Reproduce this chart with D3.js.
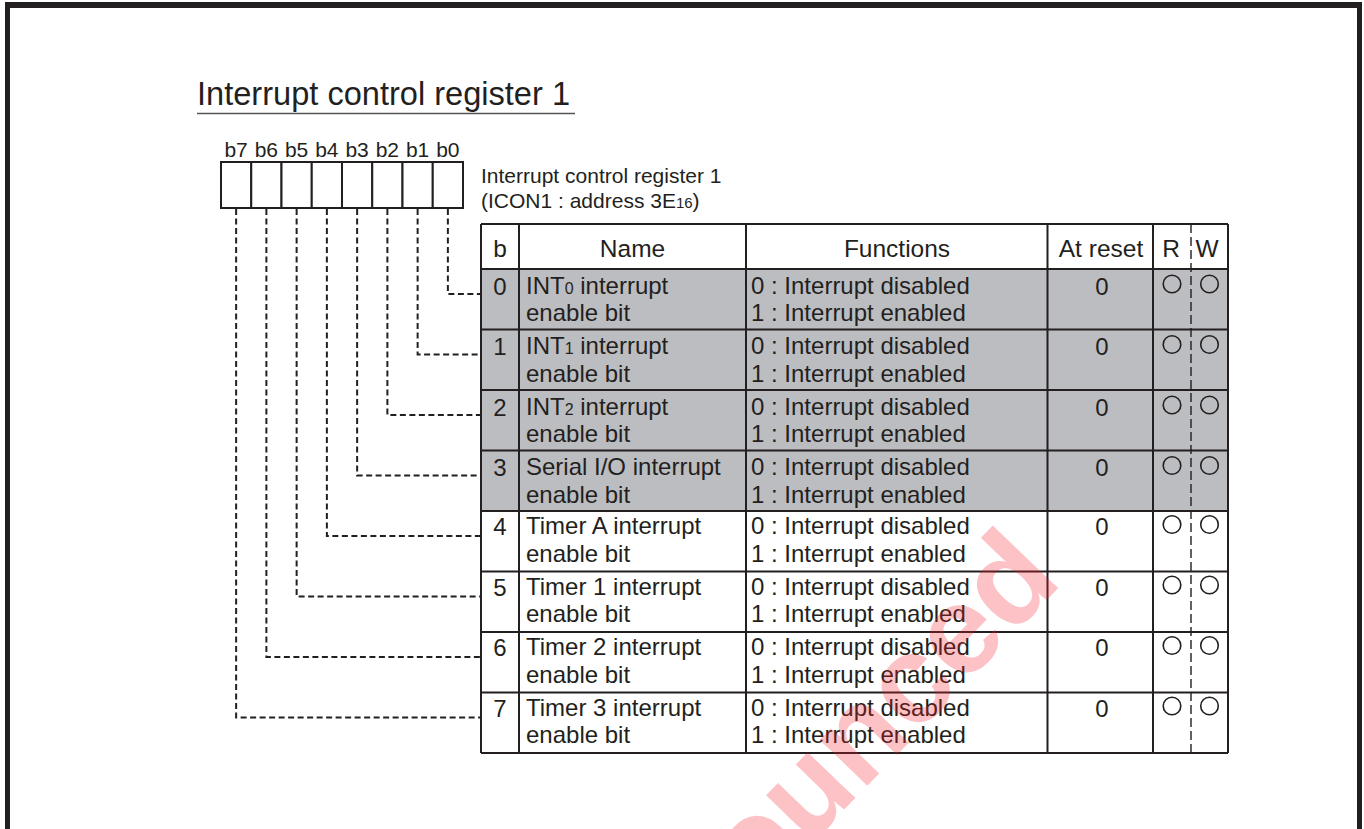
<!DOCTYPE html>
<html><head><meta charset="utf-8">
<script src="https://cdn.jsdelivr.net/npm/d3@7"></script>
<style>
html,body{margin:0;padding:0;background:#fff;}
svg{display:block;}
text{font-family:"Liberation Sans",Arial,Helvetica,sans-serif;fill:#231f20;}
</style>
</head><body>
<svg id="chart" width="1364" height="829"></svg>
<script>
// ---------- data ----------
const titleText = "Interrupt control register 1";
const registerDesc = ["Interrupt control register 1", "(ICON1 : address 3E{16})"];
const bitLabels = ["b7", "b6", "b5", "b4", "b3", "b2", "b1", "b0"];
const headers = ["b", "Name", "Functions", "At reset", "R", "W"];
const bits = [0, 1, 2, 3, 4, 5, 6, 7];
const nameLine1 = ["INT{0} interrupt", "INT{1} interrupt", "INT{2} interrupt", "Serial I/O interrupt",
                   "Timer A interrupt", "Timer 1 interrupt", "Timer 2 interrupt", "Timer 3 interrupt"];
const nameLine2 = ["enable bit", "enable bit", "enable bit", "enable bit",
                   "enable bit", "enable bit", "enable bit", "enable bit"];
const funcLine1 = ["0 : Interrupt disabled", "0 : Interrupt disabled", "0 : Interrupt disabled", "0 : Interrupt disabled",
                   "0 : Interrupt disabled", "0 : Interrupt disabled", "0 : Interrupt disabled", "0 : Interrupt disabled"];
const funcLine2 = ["1 : Interrupt enabled", "1 : Interrupt enabled", "1 : Interrupt enabled", "1 : Interrupt enabled",
                   "1 : Interrupt enabled", "1 : Interrupt enabled", "1 : Interrupt enabled", "1 : Interrupt enabled"];
const atReset = ["0", "0", "0", "0", "0", "0", "0", "0"];
const readable = [true, true, true, true, true, true, true, true];
const writable = [true, true, true, true, true, true, true, true];
const shaded = [true, true, true, true, false, false, false, false];
const watermark = "Announced";

// ---------- layout ----------
const INK = "#231f20";
const svg = d3.select("#chart");
svg.append("rect").attr("width", 1364).attr("height", 829).attr("fill", "#fff");

// frame
svg.append("rect").attr("x", 5).attr("y", 2).attr("width", 1357).attr("height", 6).attr("fill", INK);
svg.append("rect").attr("x", 5).attr("y", 2).attr("width", 5).attr("height", 827).attr("fill", INK);
svg.append("rect").attr("x", 1357).attr("y", 2).attr("width", 5).attr("height", 827).attr("fill", INK);

// rich text helper: {x} -> smaller text
function rich(sel, str, subSize) {
  const parts = str.split(/(\{[^}]*\})/).filter(s => s.length);
  parts.forEach(p => {
    if (p[0] === "{") sel.append("tspan").attr("font-size", subSize).text(p.slice(1, -1));
    else sel.append("tspan").text(p);
  });
}

// title
svg.append("text").attr("x", 197).attr("y", 105).attr("font-size", 32.6).text(titleText);
svg.append("line").attr("x1", 197).attr("x2", 575).attr("y1", 113.5).attr("y2", 113.5)
  .attr("stroke", "#555").attr("stroke-width", 1.5);

// register boxes
const bx = d3.scaleBand().domain(bitLabels).range([221, 463]);
const boxTop = 162, boxBot = 208;
svg.append("g").selectAll("rect").data(bitLabels).join("rect")
  .attr("x", d => bx(d)).attr("y", boxTop).attr("width", bx.bandwidth()).attr("height", boxBot - boxTop)
  .attr("fill", "#fff").attr("stroke", INK).attr("stroke-width", 2);
svg.append("g").selectAll("text").data(bitLabels).join("text")
  .attr("x", d => bx(d) + bx.bandwidth() / 2).attr("y", 157).attr("text-anchor", "middle")
  .attr("font-size", 21).text(d => d);

// register description
registerDesc.forEach((s, i) => {
  const t = svg.append("text").attr("x", 481).attr("y", 183 + i * 25).attr("font-size", 21);
  rich(t, s, 15);
});

// table
const colEdges = [481, 519, 746, 1047.5, 1153, 1191, 1228];
const headTop = 224, headBot = 269;
const y = d3.scaleLinear().domain([0, bits.length]).range([headBot, 753]);
const rowH = y(1) - y(0);

// shaded fills
svg.append("g").selectAll("rect").data(bits.filter(b => shaded[b])).join("rect")
  .attr("x", colEdges[0]).attr("y", d => y(d)).attr("width", colEdges[6] - colEdges[0]).attr("height", rowH)
  .attr("fill", "#bcbdc1");

// header text
const headX = [500, 632.5, 897, 1101, 1171, 1207];
svg.append("g").selectAll("text").data(headers).join("text")
  .attr("x", (d, i) => headX[i]).attr("y", 257).attr("text-anchor", "middle")
  .attr("font-size", 24.5).text(d => d);

// rows
const rows = svg.append("g").selectAll("g").data(bits).join("g");
const base = d => y(d) + (shaded[d] ? 24.5 : 23);
rows.append("text").attr("x", 500).attr("y", d => base(d) + 1).attr("text-anchor", "middle")
  .attr("font-size", 24).text(d => d);
rows.each(function (d) {
  const g = d3.select(this);
  const t1 = g.append("text").attr("x", 526).attr("y", base(d)).attr("font-size", 24);
  rich(t1, nameLine1[d], 16);
  g.append("text").attr("x", 526).attr("y", base(d) + 27.5).attr("font-size", 24).text(nameLine2[d]);
  g.append("text").attr("x", 751).attr("y", base(d)).attr("font-size", 24).text(funcLine1[d]);
  g.append("text").attr("x", 751).attr("y", base(d) + 27.5).attr("font-size", 24).text(funcLine2[d]);
  g.append("text").attr("x", 1102).attr("y", base(d) + 1).attr("text-anchor", "middle")
    .attr("font-size", 24).text(atReset[d]);
  if (readable[d]) g.append("circle").attr("cx", 1172).attr("cy", base(d) - 9.5).attr("r", 8.8)
    .attr("fill", "none").attr("stroke", INK).attr("stroke-width", 1.6);
  if (writable[d]) g.append("circle").attr("cx", 1209.5).attr("cy", base(d) - 9.5).attr("r", 8.8)
    .attr("fill", "none").attr("stroke", INK).attr("stroke-width", 1.6);
});

// grid lines
const grid = svg.append("g").attr("stroke", INK).attr("stroke-width", 2).attr("fill", "none");
const hLines = [headTop].concat(bits.map(b => y(b)), [y(bits.length)]);
grid.selectAll("line.h").data(hLines).join("line").attr("class", "h")
  .attr("x1", colEdges[0]).attr("x2", colEdges[6]).attr("y1", d => d).attr("y2", d => d);
grid.selectAll("line.v").data([0, 1, 2, 3, 4, 6]).join("line").attr("class", "v")
  .attr("x1", i => colEdges[i]).attr("x2", i => colEdges[i]).attr("y1", headTop).attr("y2", y(bits.length));
svg.append("line").attr("x1", colEdges[5]).attr("x2", colEdges[5]).attr("y1", headTop).attr("y2", y(bits.length))
  .attr("stroke", INK).attr("stroke-width", 1.4).attr("stroke-dasharray", "9,4");

// dashed connectors
svg.append("g").selectAll("path").data(bits).join("path")
  .attr("d", d => {
    const x = bx(bitLabels[7 - d]) + bx.bandwidth() / 2;
    return `M${x},${boxBot + 1}V${y(d) + 25}H${colEdges[0]}`;
  })
  .attr("fill", "none").attr("stroke", INK).attr("stroke-width", 2).attr("stroke-dasharray", "6,3.5");

// watermark
svg.append("text").attr("transform", "translate(1064,582) rotate(-46)")
  .attr("text-anchor", "end").attr("font-size", 125).attr("font-weight", "bold")
  .style("fill", "#f51c2a").attr("fill-opacity", 0.27).text(watermark);
</script>
</body></html>
